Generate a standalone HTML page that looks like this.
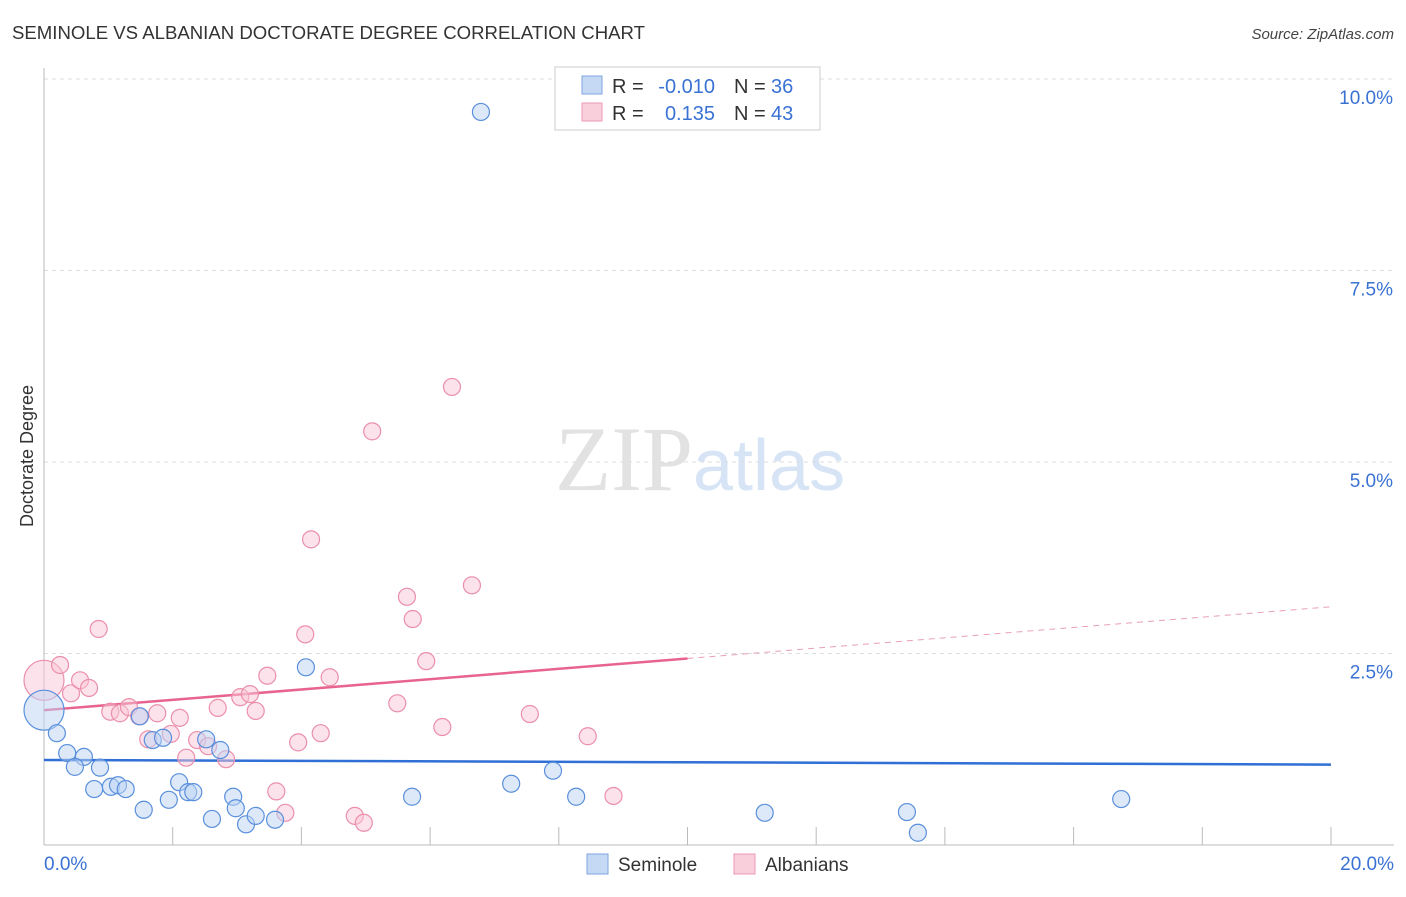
<!DOCTYPE html>
<html><head><meta charset="utf-8"><style>
body{margin:0;background:#fff;font-family:"Liberation Sans",sans-serif}
</style></head><body>
<svg id="chart" width="1406" height="892" xmlns="http://www.w3.org/2000/svg" font-family="Liberation Sans, sans-serif">
<text x="12" y="39" font-size="18.6" fill="#333">SEMINOLE VS ALBANIAN DOCTORATE DEGREE CORRELATION CHART</text>
<text x="1394" y="39" font-size="15" fill="#444" font-style="italic" text-anchor="end">Source: ZipAtlas.com</text>
<text x="555" y="490" font-size="92"><tspan fill="#e2e2e2" font-family="Liberation Serif, serif">ZIP</tspan><tspan fill="#d6e4f5" font-size="72">atlas</tspan></text>
<text transform="translate(33,456) rotate(-90)" font-size="18" fill="#333" text-anchor="middle">Doctorate Degree</text>
<g id="grid"></g><g id="axes"></g><g id="lines"></g><g id="pts"></g>
<g font-size="20">
<rect x="555" y="67" width="265" height="63" fill="#fff" stroke="#ccc"/>
<rect x="582" y="76" width="20" height="18" fill="#c5d9f5" stroke="#7ea6e0"/>
<rect x="582" y="103" width="20" height="18" fill="#f9cfdb" stroke="#eb9ab3"/>
<text x="612" y="93" fill="#333">R =</text>
<text x="715" y="93" fill="#3a72d4" text-anchor="end">-0.010</text>
<text x="734" y="93" fill="#333">N =</text>
<text x="771" y="93" fill="#3a72d4">36</text>
<text x="612" y="120" fill="#333">R =</text>
<text x="715" y="120" fill="#3a72d4" text-anchor="end">0.135</text>
<text x="734" y="120" fill="#333">N =</text>
<text x="771" y="120" fill="#3a72d4">43</text>
</g>
<g>
<rect x="587" y="854" width="21" height="20" fill="#c5d9f5" stroke="#7ea6e0"/>
<text x="618" y="871" font-size="19" fill="#333">Seminole</text>
<rect x="734" y="854" width="21" height="20" fill="#f9cfdb" stroke="#eb9ab3"/>
<text x="765" y="871" font-size="19" fill="#333">Albanians</text>
</g>
</svg>
<script>
const blueX=[6.79,4.07,0,0.20,0.36,0.62,0.48,0.87,0.78,1.04,1.15,1.27,1.49,1.69,1.85,1.55,1.94,2.10,2.24,2.32,2.52,2.61,2.74,2.94,2.98,3.14,3.29,3.59,5.72,7.26,7.91,8.27,11.20,13.41,13.58,16.74];
const blueY=[9.57,2.32,1.76,1.46,1.20,1.15,1.02,1.01,0.73,0.76,0.78,0.73,1.68,1.37,1.40,0.46,0.59,0.82,0.69,0.69,1.38,0.34,1.24,0.63,0.48,0.27,0.38,0.33,0.63,0.80,0.97,0.63,0.42,0.43,0.16,0.60];
const pinkX=[0,0.25,0.42,0.56,0.70,0.85,1.03,1.18,1.32,1.48,1.62,1.76,1.97,2.11,2.21,2.38,2.55,2.70,2.83,3.05,3.20,3.29,3.47,3.61,3.75,3.95,4.06,4.15,4.30,4.44,4.83,4.97,5.10,5.49,5.64,5.73,5.94,6.19,6.34,6.65,7.55,8.45,8.85];
const pinkY=[2.15,2.35,1.98,2.15,2.05,2.82,1.74,1.72,1.80,1.68,1.38,1.72,1.45,1.66,1.14,1.37,1.29,1.79,1.12,1.93,1.97,1.75,2.21,0.70,0.42,1.34,2.75,3.99,1.46,2.19,0.38,0.29,5.40,1.85,3.24,2.95,2.40,1.54,5.98,3.39,1.71,1.42,0.64];
const blueTrend=[1.11,1.05];
const pinkTrend=[1.76,3.11];
const yTicks=[2.5,5.0,7.5,10.0];
const xTickLabels=["0.0%","20.0%"];
const NS="http://www.w3.org/2000/svg";
const sx=v=>44+v/20*1287, sy=v=>845-v*76.6;
function mk(p,t,a){const e=document.createElementNS(NS,t);for(const k in a)e.setAttribute(k,a[k]);document.getElementById(p).appendChild(e);return e;}
yTicks.forEach(t=>{
 const l=mk('grid','line',{x1:44,x2:1394,y1:sy(t),y2:sy(t),stroke:'#ddd','stroke-dasharray':'4,4'});
 
 
 const tx=mk('grid','text',{x:1393,y:sy(t)+25,'font-size':19,fill:'#3a72d4','text-anchor':'end'});tx.textContent=t.toFixed(1)+'%';
 
 
});
const ax=mk('axes','line',{x1:44,x2:44,y1:68,y2:845,stroke:'#bbb'});


const bx=mk('axes','line',{x1:44,x2:1394,y1:845,y2:845,stroke:'#bbb'});


for(let i=1;i<=10;i++){const t=mk('axes','line',{x1:sx(i*2),x2:sx(i*2),y1:827,y2:845,stroke:'#bbb'});
 
 }
[[0,'start',44],[20,'end',1394]].forEach((d,i)=>{const t=mk('axes','text',{x:d[2],y:870,'font-size':19,fill:'#3a72d4','text-anchor':d[1]});t.textContent=xTickLabels[i];
 
 });
function draw(xs,ys,fill,stroke,name){xs.forEach((x,i)=>{const c=mk('pts','circle',{cx:sx(x),cy:sy(ys[i]),r:x===0?20:8.5,fill:fill,stroke:stroke,'stroke-width':1.2,'fill-opacity':0.5});
 
 });}
draw(pinkX,pinkY,'#f9c6d5','#eb8fab','albanians-point');
draw(blueX,blueY,'#bcd3f3','#5a8fdc','seminole-point');
const bl=mk('lines','line',{x1:sx(0),y1:sy(blueTrend[0]),x2:sx(20),y2:sy(blueTrend[1]),stroke:'#2f6fd6','stroke-width':2.5});


const pm=(pinkTrend[0]+pinkTrend[1])/2;
const pl=mk('lines','line',{x1:sx(0),y1:sy(pinkTrend[0]),x2:sx(10),y2:sy(pm),stroke:'#e8648f','stroke-width':2.5});


const pd=mk('lines','line',{x1:sx(10),y1:sy(pm),x2:sx(20),y2:sy(pinkTrend[1]),stroke:'#e8a0b6','stroke-width':1,'stroke-dasharray':'6,5'});


</script>
</body></html>
